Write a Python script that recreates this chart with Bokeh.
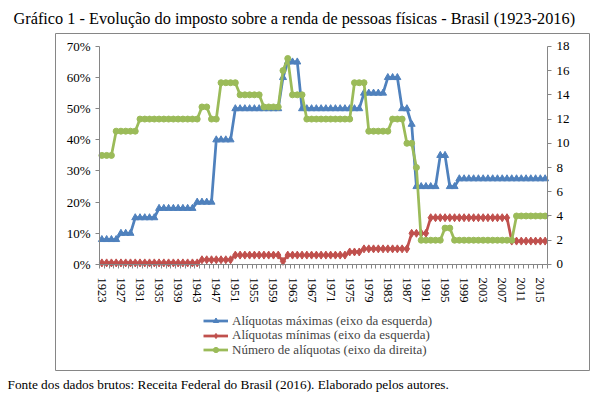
from bokeh.plotting import figure
from bokeh.models import (Range1d, LinearAxis, FixedTicker, Title, Legend, LegendItem)
from bokeh.embed import file_html
from bokeh.resources import INLINE

years = list(range(1923, 2017))

aliq_max = [8, 8, 8, 8,
            10, 10, 10,
            15, 15, 15, 15, 15,
            18, 18, 18, 18, 18, 18, 18, 18,
            20, 20, 20, 20,
            40, 40, 40, 40,
            50, 50, 50, 50, 50, 50, 50, 50, 50, 50,
            60,
            65, 65, 65,
            50, 50, 50, 50, 50, 50, 50, 50, 50, 50, 50, 50, 50,
            55, 55, 55, 55, 55,
            60, 60, 60,
            50, 50,
            45,
            25, 25, 25, 25, 25,
            35, 35,
            25, 25,
            27.5, 27.5, 27.5, 27.5, 27.5, 27.5, 27.5, 27.5, 27.5, 27.5,
            27.5, 27.5, 27.5, 27.5, 27.5, 27.5, 27.5, 27.5, 27.5]

aliq_min = [0.5, 0.5, 0.5, 0.5, 0.5, 0.5, 0.5, 0.5, 0.5, 0.5, 0.5,
            0.5, 0.5, 0.5, 0.5, 0.5, 0.5, 0.5, 0.5, 0.5, 0.5,
            1.5, 1.5, 1.5, 1.5, 1.5, 1.5, 1.5,
            3, 3, 3, 3, 3, 3, 3, 3, 3, 3,
            1,
            3, 3, 3, 3, 3, 3, 3, 3, 3, 3, 3, 3, 3,
            4, 4, 4,
            5, 5, 5, 5, 5, 5, 5, 5, 5, 5,
            10, 10, 10, 10,
            15, 15, 15, 15, 15, 15, 15, 15, 15, 15, 15, 15, 15, 15, 15, 15, 15,
            7.5, 7.5, 7.5, 7.5, 7.5, 7.5, 7.5, 7.5]

num_aliq = [9, 9, 9,
            11, 11, 11, 11, 11,
            12, 12, 12, 12, 12, 12, 12, 12, 12, 12, 12, 12, 12,
            13, 13,
            12, 12,
            15, 15, 15, 15,
            14, 14, 14, 14, 14,
            13, 13, 13, 13,
            16,
            17,
            14, 14, 14,
            12, 12, 12, 12, 12, 12, 12, 12, 12, 12,
            15, 15, 15,
            11, 11, 11, 11, 11,
            12, 12, 12,
            10, 10,
            8,
            2, 2, 2, 2, 2,
            3, 3,
            2, 2, 2, 2, 2, 2, 2, 2, 2, 2, 2, 2, 2,
            4, 4, 4, 4, 4, 4, 4]

left_ticks = [0, 10, 20, 30, 40, 50, 60, 70]
right_ticks = [0, 2, 4, 6, 8, 10, 12, 14, 16, 18]
label_every = 4

title_text = "Gráfico 1 - Evolução do imposto sobre a renda de pessoas físicas - Brasil (1923-2016)"
footer_text = "Fonte dos dados brutos: Receita Federal do Brasil (2016). Elaborado pelos autores."
legend_labels = ["Alíquotas máximas (eixo da esquerda)",
                 "Alíquotas mínimas (eixo da esquerda)",
                 "Número de alíquotas (eixo da direita)"]

BLUE, RED, GREEN = "#4F81BD", "#C0504D", "#9BBB59"
AXIS = "#868686"
FONT = "Liberation Serif"

# ---- layout (pixels on the canvas) ----
W, H = 597, 400
FL, FR, FT, FB = 55, 589, 32, 372      # frame = chart-area box (outlined)
PL, PR, PT, PB = 99, 547, 45, 265      # plot area
LMAX, RMAX = 70, 18                    # axis tops
n = len(years)


def xd(px):
    return -0.5 + (px - PL) * n / (PR - PL)


def yd(py, top=LMAX):
    return (PB - py) * top / (PB - PT)


x = list(range(n))

p = figure(width=W, height=H, output_backend="svg", toolbar_location=None,
           x_range=Range1d(xd(FL), xd(FR)), y_range=Range1d(yd(FB), yd(FT)),
           min_border_left=FL, min_border_right=W - FR,
           min_border_top=FT, min_border_bottom=H - FB)
p.extra_y_ranges = {"right": Range1d(yd(FB, RMAX), yd(FT, RMAX))}
p.xgrid.visible = False
p.ygrid.visible = False
p.outline_line_color = AXIS
p.outline_line_width = 1
p.outline_line_alpha = 1.0
p.background_fill_color = "white"
p.border_fill_color = "white"

# x axis (category axis)
xa = p.xaxis[0]
xa.fixed_location = 0
xa.bounds = (-0.5, n - 0.5)
xa.ticker = FixedTicker(ticks=x[::label_every], minor_ticks=[v - 0.5 for v in x] + [n - 0.5])
xa.major_label_overrides = {i: str(years[i]) for i in x[::label_every]}
xa.major_label_orientation = "vertical"
xa.major_tick_out = 0
xa.major_tick_in = 0
xa.minor_tick_out = 4
xa.minor_tick_in = 0
xa.major_label_standoff = 9
xa.axis_line_color = AXIS
xa.minor_tick_line_color = AXIS
xa.major_label_text_font = FONT
xa.major_label_text_font_size = "12.5px"
xa.major_label_text_color = "black"

# left axis
ya = p.yaxis[0]
ya.fixed_location = -0.5
ya.bounds = (0, LMAX)
ya.ticker = FixedTicker(ticks=left_ticks, minor_ticks=[])
ya.major_label_overrides = {t: f"{t}%" for t in left_ticks}
ya.major_tick_out = 4
ya.major_tick_in = 0
ya.minor_tick_out = 0
ya.minor_tick_in = 0
ya.major_label_standoff = 5
ya.axis_line_color = AXIS
ya.major_tick_line_color = AXIS
ya.major_label_text_font = FONT
ya.major_label_text_font_size = "13px"
ya.major_label_text_color = "black"

# right axis
ra = LinearAxis(y_range_name="right", ticker=FixedTicker(ticks=right_ticks, minor_ticks=[]))
ra.fixed_location = n - 0.5
ra.bounds = (0, RMAX)
ra.major_tick_out = 4
ra.major_tick_in = 0
ra.minor_tick_out = 0
ra.minor_tick_in = 0
ra.major_label_standoff = 5
ra.axis_line_color = AXIS
ra.major_tick_line_color = AXIS
ra.major_label_text_font = FONT
ra.major_label_text_font_size = "13px"
ra.major_label_text_color = "black"
p.add_layout(ra, "right")

# series
l1 = p.line(x, aliq_max, line_color=BLUE, line_width=2.75)
s1 = p.scatter(x, aliq_max, marker="triangle", size=7, fill_color=BLUE, line_color=BLUE)
l2 = p.line(x, aliq_min, line_color=RED, line_width=2.75)
s2 = p.scatter(x, aliq_min, marker="diamond", size=8, fill_color=RED, line_color=RED)
l3 = p.line(x, num_aliq, line_color=GREEN, line_width=2.75, y_range_name="right")
s3 = p.scatter(x, num_aliq, marker="circle", size=6, fill_color=GREEN, line_color=GREEN,
               y_range_name="right")

# legend: one row per entry, centred at these canvas y positions
legend_rows = [(legend_labels[0], [l1, s1], 323.5),
               (legend_labels[1], [l2, s2], 338),
               (legend_labels[2], [l3, s3], 352.5)]
for text, rends, cy in legend_rows:
    lg = Legend(items=[LegendItem(label=text, renderers=rends)],
                location=(203 - FL, FB - cy - 7), orientation="vertical",
                glyph_width=25, glyph_height=13, label_height=13, label_standoff=4,
                spacing=0, padding=0, margin=0,
                border_line_color=None, background_fill_alpha=0,
                label_text_font=FONT, label_text_font_size="13px",
                label_text_baseline="middle")
    p.add_layout(lg)

# title above the box, source note below it
p.add_layout(Title(text=title_text, align="left", offset=13 - FL, standoff=12,
                   vertical_align="bottom", text_font=FONT, text_font_size="16.3px",
                   text_font_style="normal", text_color="black"), "above")
p.add_layout(Title(text=footer_text, align="left", offset=7 - FL, standoff=13,
                   vertical_align="top", text_font=FONT, text_font_size="13.3px",
                   text_font_style="normal", text_color="black"), "below")

open("out.html", "w").write(file_html(p, INLINE))
